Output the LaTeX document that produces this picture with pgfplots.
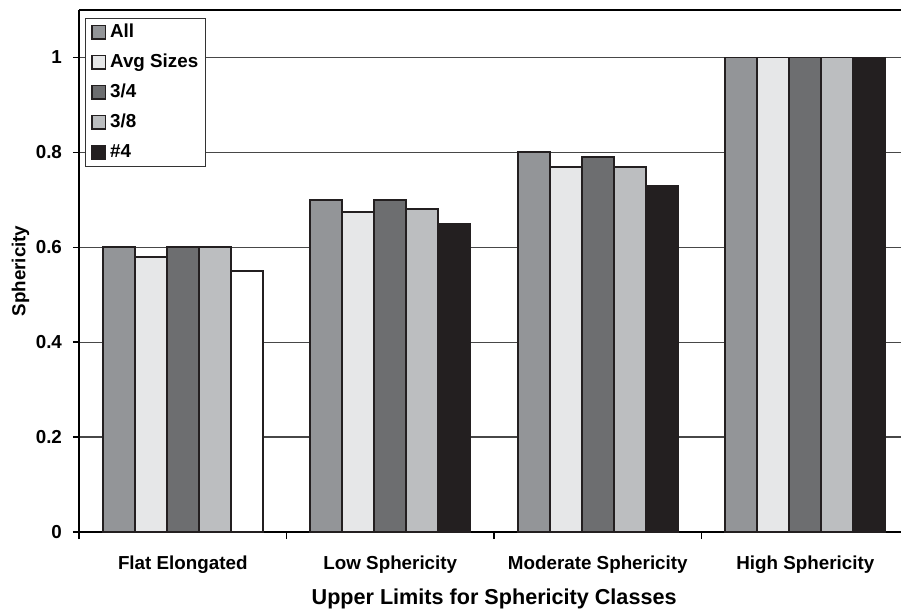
\documentclass[border=0pt]{standalone}
\usepackage{pgfplots}
\pgfplotsset{compat=1.18}
\usepackage{fontspec}
\setmainfont{Liberation Sans}

\definecolor{cAll}{HTML}{939598}
\definecolor{cAvg}{HTML}{E6E7E8}
\definecolor{cThreeFour}{HTML}{6D6E70}
\definecolor{cThreeEight}{HTML}{BCBEC0}
\definecolor{cFour}{HTML}{231F20}
\definecolor{cEdge}{HTML}{231F20}

\begin{document}
\begin{tikzpicture}
\begin{axis}[
  at={(0,0)}, anchor=south west,
  scale only axis,
  width=411pt, height=261pt,
  ybar, bar width=0.154,
  xmin=-0.5, xmax=3.461,
  ymin=0, ymax=1.1,
  axis y line*=left, axis x line*=bottom,
  axis line style={black, line width=0.7pt, -},
  ytick={0,0.2,0.4,0.6,0.8,1},
  yticklabels={0,0.2,0.4,0.6,0.8,1},
  ymajorgrids,
  major grid style={black!72, line width=0.6pt},
  tick align=outside,
  major tick length=3pt,
  ytick style={black, line width=0.7pt},
  xtick={0,1,2,3},
  xticklabels={Flat Elongated, Low Sphericity, Moderate Sphericity, High Sphericity},
  xtick style={draw=none},
  extra x ticks={-0.5,0.5,1.5,2.5},
  extra x tick labels={},
  extra x tick style={xtick style={draw=black, line width=0.7pt}, major tick length=3.5pt},
  ticklabel style={font=\fontsize{9.4}{11}\selectfont\bfseries},
  yticklabel style={xshift=-2pt},
  xticklabel style={anchor=base, yshift=-15.5pt},
  xlabel={Upper Limits for Sphericity Classes},
  xlabel style={font=\fontsize{10.8}{13}\selectfont\bfseries,
    at={(axis description cs:0.505,0)}, anchor=base, yshift=-36pt},
  ylabel={Sphericity},
  ylabel style={font=\fontsize{9.4}{11}\selectfont\bfseries,
    at={(axis description cs:-0.071,0.5)}, anchor=center, rotate=0},
  every axis plot/.append style={draw=cEdge, line width=0.95pt},
  legend image code/.code={
    \draw[#1, line width=0.9pt] (0pt,-3.4pt) rectangle (6.8pt,3.4pt);
    \path (7.6pt,0pt);
  },
  legend cell align=left,
  legend style={
    at={(axis description cs:0.0073,0.985)}, anchor=north west,
    draw=black!80, line width=0.5pt, fill=white,
    font=\fontsize{9.4}{11}\selectfont\bfseries,
    inner xsep=2.8pt, inner ysep=1.5pt,
    row sep=4pt,
    nodes={inner sep=1pt, text height=7pt, text depth=2pt},
  },
]
% series: All, Avg Sizes, 3/4, 3/8, #4
\addplot[fill=cAll, bar shift=-0.308] coordinates {(0,0.60) (1,0.70) (2,0.80) (3,1.00)};
\addplot[fill=cAvg, bar shift=-0.154] coordinates {(0,0.58) (1,0.675) (2,0.77) (3,1.00)};
\addplot[fill=cThreeFour, bar shift=0] coordinates {(0,0.60) (1,0.70) (2,0.79) (3,1.00)};
\addplot[fill=cThreeEight, bar shift=0.154] coordinates {(0,0.60) (1,0.68) (2,0.77) (3,1.00)};
\addplot[fill=cFour, bar shift=0.308] coordinates {(1,0.65) (2,0.73) (3,1.00)};
% the #4 bar of the first class is drawn unfilled
\addplot[fill=white, bar shift=0.308, forget plot] coordinates {(0,0.55)};
\legend{All, Avg Sizes, 3/4, 3/8, \#4}
% top frame line
\draw[black, line width=0.7pt] (rel axis cs:0,1) -- (rel axis cs:1,1);
\end{axis}
\pgfresetboundingbox
\path (-39.5pt,-40pt) rectangle (411pt,266pt);
\end{tikzpicture}
\end{document}
